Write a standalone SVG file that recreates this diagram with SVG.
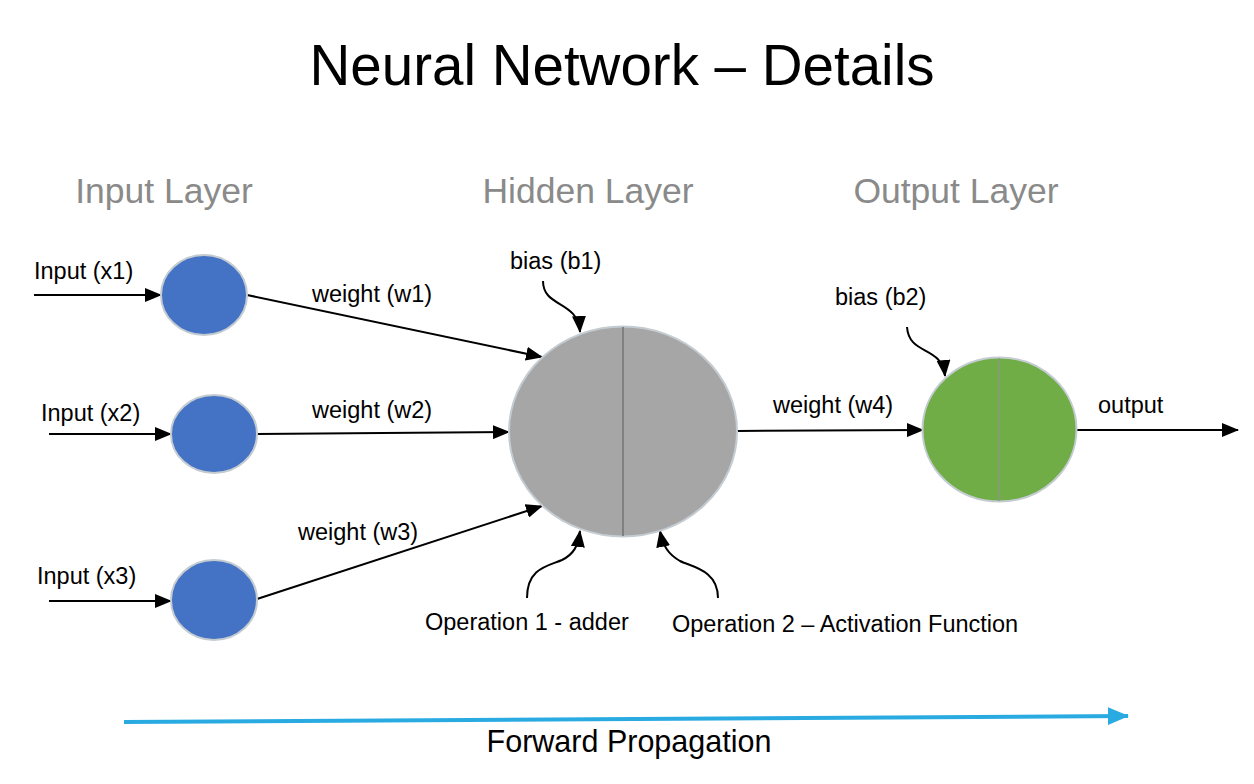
<svg xmlns="http://www.w3.org/2000/svg" width="1254" height="784" viewBox="0 0 1254 784">
<style>
.t{font-family:"Liberation Sans",Arial,sans-serif;fill:#000}
.title{font-size:56.5px}
.layer{font-size:35.5px;fill:#8a8a8a}
.lbl{font-size:23.5px}
.fp{font-size:30.5px}
.con{stroke:#000;stroke-width:2;fill:none}
.node{stroke:#c4ccd2;stroke-width:2}
.split{stroke:#808080;stroke-width:2}
</style>
<defs>
<marker id="ah" markerUnits="userSpaceOnUse" markerWidth="18" markerHeight="14" refX="16" refY="7" orient="auto">
<path d="M0,0 L17,7 L0,14 Z" fill="#000"/>
</marker>
<marker id="bh" markerUnits="userSpaceOnUse" markerWidth="22" markerHeight="20" refX="20" refY="9" orient="auto">
<path d="M0,0 L21,9 L0,18 Z" fill="#29ABE2"/>
</marker>
</defs>
<rect width="1254" height="784" fill="#fff"/>
<text class="t title" x="622" y="85" text-anchor="middle">Neural Network – Details</text>
<text class="t layer" x="164" y="203" text-anchor="middle">Input Layer</text>
<text class="t layer" x="588" y="203" text-anchor="middle">Hidden Layer</text>
<text class="t layer" x="956" y="203" text-anchor="middle">Output Layer</text>

<g id="connectors">
<line class="con" x1="34" y1="295" x2="161" y2="295" marker-end="url(#ah)"/>
<line class="con" x1="49" y1="434" x2="171" y2="434" marker-end="url(#ah)"/>
<line class="con" x1="49" y1="601" x2="171" y2="601" marker-end="url(#ah)"/>
<line class="con" x1="247" y1="295" x2="542" y2="357" marker-end="url(#ah)"/>
<line class="con" x1="257" y1="434" x2="509" y2="432" marker-end="url(#ah)"/>
<line class="con" x1="257" y1="599" x2="542" y2="506" marker-end="url(#ah)"/>
<line class="con" x1="737" y1="431" x2="923" y2="430" marker-end="url(#ah)"/>
<line class="con" x1="1076" y1="430" x2="1238" y2="430" marker-end="url(#ah)"/>
<path class="con" d="M543,281 C543,308 578,300 580,332" marker-end="url(#ah)"/>
<path class="con" d="M907,327 C909,356 942,345 945,376" marker-end="url(#ah)"/>
<path class="con" d="M527,598 C527,568 548,566 562,560 C574,554 578,546 580,531" marker-end="url(#ah)"/>
<path class="con" d="M718,598 C718,570 692,567 680,561 C668,554 663,546 660,531" marker-end="url(#ah)"/>
<line x1="124" y1="722" x2="1128" y2="716" stroke="#29ABE2" stroke-width="4" marker-end="url(#bh)"/>
</g>

<g id="input1"><ellipse class="node" cx="204" cy="295" rx="43" ry="40" fill="#4472C4"/></g>
<g id="input2"><ellipse class="node" cx="214" cy="434" rx="43" ry="39" fill="#4472C4"/></g>
<g id="input3"><ellipse class="node" cx="214" cy="600" rx="43" ry="40" fill="#4472C4"/></g>
<g id="hidden"><ellipse class="node" cx="623" cy="431.5" rx="114" ry="105" fill="#A6A6A6"/><line class="split" x1="623" y1="327" x2="623" y2="536"/></g>
<g id="output"><ellipse class="node" cx="999.5" cy="429.5" rx="77" ry="72" fill="#70AD47"/><line x1="999" y1="358" x2="999" y2="501" stroke="#8a9a80" stroke-width="1.5"/></g>

<g id="labels">
<text class="t lbl" x="34" y="279">Input (x1)</text>
<text class="t lbl" x="41" y="421">Input (x2)</text>
<text class="t lbl" x="37" y="584">Input (x3)</text>
<text class="t lbl" x="312" y="302">weight (w1)</text>
<text class="t lbl" x="312" y="418">weight (w2)</text>
<text class="t lbl" x="298" y="540">weight (w3)</text>
<text class="t lbl" x="773" y="413">weight (w4)</text>
<text class="t lbl" x="1098" y="413">output</text>
<text class="t lbl" x="510" y="269">bias (b1)</text>
<text class="t lbl" x="835" y="305">bias (b2)</text>
<text class="t lbl" x="425" y="630">Operation 1 - adder</text>
<text class="t lbl" x="672" y="632">Operation 2 – Activation Function</text>
<text class="t fp" x="629" y="752" text-anchor="middle">Forward Propagation</text>
</g>
</svg>
